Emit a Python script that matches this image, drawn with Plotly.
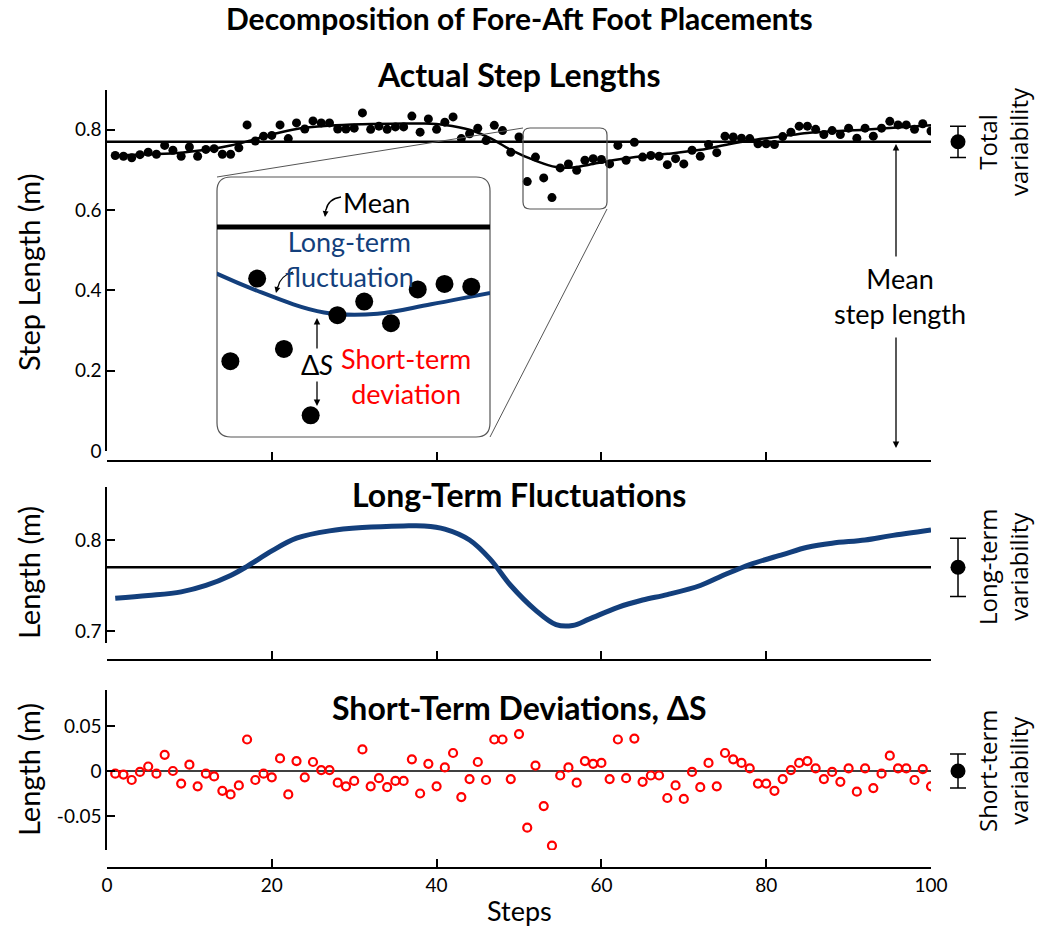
import plotly.graph_objects as go

# ---------------------------------------------------------------- data
STEPS = list(range(1, 101))

# measured step lengths (m)
STEP_LENGTH = [
    0.736, 0.734, 0.730, 0.738, 0.744, 0.739, 0.761, 0.749, 0.734, 0.757,
    0.734, 0.751, 0.753, 0.739, 0.739, 0.755, 0.812, 0.772, 0.784, 0.786,
    0.812, 0.778, 0.817, 0.802, 0.822, 0.817, 0.817, 0.802, 0.802, 0.804,
    0.842, 0.801, 0.809, 0.801, 0.807, 0.807, 0.834, 0.794, 0.827, 0.801,
    0.819, 0.832, 0.778, 0.790, 0.804, 0.773, 0.811, 0.798, 0.744, 0.782,
    0.671, 0.732, 0.680, 0.631, 0.705, 0.715, 0.699, 0.724, 0.728, 0.726,
    0.715, 0.761, 0.724, 0.769, 0.732, 0.736, 0.734, 0.713, 0.728, 0.715,
    0.749, 0.734, 0.763, 0.743, 0.784, 0.782, 0.779, 0.778, 0.765, 0.765,
    0.763, 0.783, 0.794, 0.809, 0.809, 0.801, 0.788, 0.798, 0.788, 0.804,
    0.779, 0.804, 0.784, 0.804, 0.821, 0.812, 0.812, 0.801, 0.815, 0.797,
]

# short-term deviations from the slow trend, Delta S (m)
SHORT_TERM = [
    -0.003, -0.004, -0.010, -0.001, 0.005, -0.003, 0.018, 0.000, -0.014, 0.007,
    -0.017, -0.003, -0.006, -0.022, -0.026, -0.016, 0.035, -0.010, -0.003, -0.007,
    0.014, -0.026, 0.011, -0.007, 0.010, 0.001, 0.001, -0.013, -0.017, -0.011,
    0.024, -0.017, -0.008, -0.018, -0.011, -0.011, 0.013, -0.025, 0.008, -0.017,
    0.004, 0.020, -0.029, -0.009, 0.010, -0.010, 0.035, 0.035, -0.009, 0.041,
    -0.063, 0.006, -0.039, -0.083, -0.005, 0.004, -0.013, 0.011, 0.008, 0.009,
    -0.009, 0.035, -0.008, 0.036, -0.012, -0.005, -0.005, -0.030, -0.016, -0.031,
    -0.001, -0.018, 0.009, -0.017, 0.020, 0.013, 0.009, 0.003, -0.014, -0.014,
    -0.022, -0.009, 0.001, 0.009, 0.011, 0.003, -0.009, -0.001, -0.012, 0.003,
    -0.023, 0.003, -0.019, -0.003, 0.017, 0.003, 0.003, -0.010, 0.002, -0.017,
]

# slow (long-term) fluctuation of step length, sampled along the steps
LT_KNOT_STEPS = [1, 5, 9, 12, 15, 17, 20, 23, 27, 31, 36, 38.5, 41, 44, 46.5,
                 49, 52, 54.5, 56.5, 58.5, 62, 65, 68, 72, 75, 78, 82, 85,
                 88, 92, 95, 100]
LT_KNOT_VALUES = [0.736, 0.739, 0.743, 0.750, 0.761, 0.771, 0.788, 0.802,
                  0.810, 0.8136, 0.8154, 0.8154, 0.812, 0.800, 0.779, 0.750,
                  0.723, 0.707, 0.706, 0.713, 0.726, 0.734, 0.740, 0.750,
                  0.762, 0.773, 0.784, 0.792, 0.7965, 0.800, 0.8045, 0.811]

MEAN_LENGTH = 0.77
TOTAL_SD = 0.039
LONG_SD = 0.032
SHORT_SD = 0.019

X_TICKS = [0, 20, 40, 60, 80, 100]
TOP_TICKS = [0, 0.2, 0.4, 0.6, 0.8]
TOP_TICK_TEXT = ["0", "0.2", "0.4", "0.6", "0.8"]
MID_TICKS = [0.7, 0.8]
MID_TICK_TEXT = ["0.7", "0.8"]
BOT_TICKS = [-0.05, 0, 0.05]
BOT_TICK_TEXT = ["-0.05", "0", "0.05"]

# window of the top panel shown enlarged in the inset
ZOOM_STEPS = (50.5, 60.7)
ZOOM_LEN = (0.615, 0.807)

# ---------------------------------------------------------------- helpers
W, H = 1039, 926
FONT = "Lato"
SIDE_FONT = "Open Sans"
NAVY = "#133f7c"


def px(x):
    return x / W


def py(y):
    return 1 - y / H


def rounded_rect(x0, y0, x1, y1, r):
    """Rounded rectangle path in paper coordinates from pixel corners."""
    pts = [
        f"M {px(x0 + r)} {py(y0)}",
        f"L {px(x1 - r)} {py(y0)}",
        f"Q {px(x1)} {py(y0)} {px(x1)} {py(y0 + r)}",
        f"L {px(x1)} {py(y1 - r)}",
        f"Q {px(x1)} {py(y1)} {px(x1 - r)} {py(y1)}",
        f"L {px(x0 + r)} {py(y1)}",
        f"Q {px(x0)} {py(y1)} {px(x0)} {py(y1 - r)}",
        f"L {px(x0)} {py(y0 + r)}",
        f"Q {px(x0)} {py(y0)} {px(x0 + r)} {py(y0)} Z",
    ]
    return " ".join(pts)


def curve(x0, y0, cx, cy, x1, y1):
    return f"M {px(x0)} {py(y0)} Q {px(cx)} {py(cy)} {px(x1)} {py(y1)}"


fig = go.Figure()

# ---------------------------------------------------------------- top panel
fig.add_trace(go.Scatter(x=[0, 100], y=[MEAN_LENGTH] * 2, mode="lines",
                         line=dict(color="black", width=2.5),
                         xaxis="x", yaxis="y"))
fig.add_trace(go.Scatter(x=LT_KNOT_STEPS, y=LT_KNOT_VALUES, mode="lines",
                         line=dict(color="black", width=2.5, shape="spline", smoothing=1),
                         xaxis="x", yaxis="y"))
fig.add_trace(go.Scatter(x=STEPS, y=STEP_LENGTH, mode="markers",
                         marker=dict(color="black", size=9),
                         xaxis="x", yaxis="y"))

# ---------------------------------------------------------------- middle panel
fig.add_trace(go.Scatter(x=[0, 100], y=[MEAN_LENGTH] * 2, mode="lines",
                         line=dict(color="black", width=2.5),
                         xaxis="x2", yaxis="y2"))
fig.add_trace(go.Scatter(x=LT_KNOT_STEPS, y=LT_KNOT_VALUES, mode="lines",
                         line=dict(color=NAVY, width=5, shape="spline", smoothing=1),
                         xaxis="x2", yaxis="y2"))

# ---------------------------------------------------------------- bottom panel
fig.add_trace(go.Scatter(x=[0, 100], y=[0, 0], mode="lines",
                         line=dict(color="black", width=1.5),
                         xaxis="x3", yaxis="y3"))
fig.add_trace(go.Scatter(x=STEPS, y=SHORT_TERM, mode="markers",
                         marker=dict(symbol="circle-open", color="#ff0000", size=8,
                                     line=dict(width=2.2, color="#ff0000")),
                         xaxis="x3", yaxis="y3"))

# ---------------------------------------------------------------- inset
zs = [s for s in STEPS if ZOOM_STEPS[0] <= s <= ZOOM_STEPS[1]]
zl = [STEP_LENGTH[s - 1] for s in zs]
fig.add_trace(go.Scatter(x=list(ZOOM_STEPS), y=[MEAN_LENGTH] * 2, mode="lines",
                         line=dict(color="black", width=5),
                         xaxis="x4", yaxis="y4"))
fig.add_trace(go.Scatter(x=LT_KNOT_STEPS, y=LT_KNOT_VALUES, mode="lines",
                         line=dict(color=NAVY, width=4, shape="spline", smoothing=1),
                         xaxis="x4", yaxis="y4"))
fig.add_trace(go.Scatter(x=zs, y=zl, mode="markers",
                         marker=dict(color="black", size=18),
                         xaxis="x4", yaxis="y4"))

# ---------------------------------------------------------------- variability markers
for yax, sd in (("y", TOTAL_SD), ("y2", LONG_SD), ("y3", SHORT_SD)):
    centre = 0 if yax == "y3" else MEAN_LENGTH
    fig.add_trace(go.Scatter(
        x=[0], y=[centre], mode="markers",
        marker=dict(color="black", size=15),
        error_y=dict(type="constant", value=sd, color="black", thickness=1.5, width=8),
        xaxis="x5", yaxis=yax))

# ---------------------------------------------------------------- axes
xdom = [px(107), px(931)]
common_x = dict(domain=xdom, range=[0, 100], showline=True, linecolor="black",
                linewidth=1.5, ticks="inside", ticklen=8, tickwidth=1.5,
                tickcolor="black", tickvals=X_TICKS, showgrid=False,
                zeroline=False, anchor="free", automargin=False,
                tickfont=dict(family=FONT, size=19, color="black"))
common_y = dict(showline=True, linecolor="black", linewidth=1.5, ticks="inside",
                ticklen=8, tickwidth=1.5, tickcolor="black", showgrid=False,
                zeroline=False, automargin=False,
                tickfont=dict(family=FONT, size=19, color="black"))
hidden = dict(visible=False, showgrid=False, zeroline=False)

fig.update_layout(
    xaxis=dict(**common_x, position=py(461), showticklabels=False),
    yaxis=dict(**common_y, domain=[py(451), py(89.6)], range=[0, 0.9],
               tickvals=TOP_TICKS, ticktext=TOP_TICK_TEXT, anchor="x"),
    xaxis2=dict(**common_x, position=py(660), showticklabels=False),
    yaxis2=dict(**common_y, domain=[py(643), py(487)], range=[0.6868, 0.8582],
                tickvals=MID_TICKS, ticktext=MID_TICK_TEXT, anchor="x2"),
    xaxis3=dict(**common_x, position=py(868), showticklabels=True),
    yaxis3=dict(**common_y, domain=[py(850), py(690)], range=[-0.0878, 0.09],
                tickvals=BOT_TICKS, ticktext=BOT_TICK_TEXT, anchor="x3"),
    xaxis4=dict(**hidden, domain=[px(217), px(490)], range=list(ZOOM_STEPS), anchor="y4"),
    yaxis4=dict(**hidden, domain=[py(437), py(177)], range=list(ZOOM_LEN), anchor="x4"),
    xaxis5=dict(**hidden, domain=[px(945), px(971)], range=[-1, 1], anchor="y"),
)

# ---------------------------------------------------------------- shapes
shapes = [
    # enlarged window in the top panel and the inset frame
    dict(type="path", xref="paper", yref="paper", path=rounded_rect(523, 128, 607, 209, 7),
         line=dict(color="#555555", width=1.2)),
    dict(type="path", xref="paper", yref="paper", path=rounded_rect(217, 177, 490, 437, 14),
         line=dict(color="#555555", width=1.2), fillcolor="white", layer="below"),
    dict(type="line", xref="paper", yref="paper", x0=px(217), y0=py(177), x1=px(523), y1=py(128),
         line=dict(color="#555555", width=1)),
    dict(type="line", xref="paper", yref="paper", x0=px(490), y0=py(437), x1=px(607), y1=py(209),
         line=dict(color="#555555", width=1)),
    # curved pointers inside the inset
    dict(type="path", xref="paper", yref="paper", path=curve(341, 197, 328, 199, 326, 210),
         line=dict(color="black", width=1.3)),
    dict(type="path", xref="paper", yref="paper", path=curve(293, 272, 280, 276, 278, 287),
         line=dict(color="black", width=1.3)),
]
fig.update_layout(shapes=shapes)

# ---------------------------------------------------------------- text
ann = []


def text(x, y, s, size, color="black", family=FONT, angle=0, **kw):
    ann.append(dict(x=px(x), y=py(y), xref="paper", yref="paper", text=s,
                    showarrow=False, textangle=angle,
                    font=dict(family=family, size=size, color=color),
                    xanchor="center", yanchor="middle", **kw))


def arrow(hx, hy, tx, ty, size=1.0, width=1.3):
    ann.append(dict(x=px(hx), y=py(hy), xref="paper", yref="paper", text="",
                    showarrow=True, ax=tx - hx, ay=ty - hy, arrowhead=2,
                    arrowsize=size, arrowwidth=width, arrowcolor="black"))


text(519, 18, "<b>Decomposition of Fore-Aft Foot Placements</b>", 30)
text(519, 75, "<b>Actual Step Lengths</b>", 32)
text(519, 494, "<b>Long-Term Fluctuations</b>", 32)
text(519, 707, "<b>Short-Term Deviations, \u0394S</b>", 32)

text(28, 273, "Step Length (m)", 29, angle=-90)
text(28, 573, "Length (m)", 29, angle=-90)
text(28, 770, "Length (m)", 29, angle=-90)
text(519, 910, "Steps", 27)

text(1003, 142, "Total<br>variability", 24, family=SIDE_FONT, angle=-90)
text(1003, 567, "Long-term<br>variability", 24, family=SIDE_FONT, angle=-90)
text(1003, 771, "Short-term<br>variability", 24, family=SIDE_FONT, angle=-90)

text(900, 296, "Mean<br>step length", 27)
arrow(896, 144, 896, 258)
arrow(896, 448, 896, 336)

# inset labels
text(376, 202, "Mean", 27)
arrow(325, 217, 326, 208, size=0.9)
text(349, 259, "Long-term<br>fluctuation", 27, color=NAVY)
arrow(276, 293, 278, 285, size=0.9)
text(317, 365, "\u0394<i>S</i>", 27)
arrow(317, 318, 317, 350)
arrow(317, 406, 317, 380)
text(406, 376, "Short-term<br>deviation", 27, color="#ff0000")

fig.update_layout(annotations=ann)

fig.update_layout(
    width=W, height=H, margin=dict(l=0, r=0, t=0, b=0, autoexpand=False),
    showlegend=False, paper_bgcolor="white", plot_bgcolor="rgba(0,0,0,0)",
)

fig.write_html("out.html")
